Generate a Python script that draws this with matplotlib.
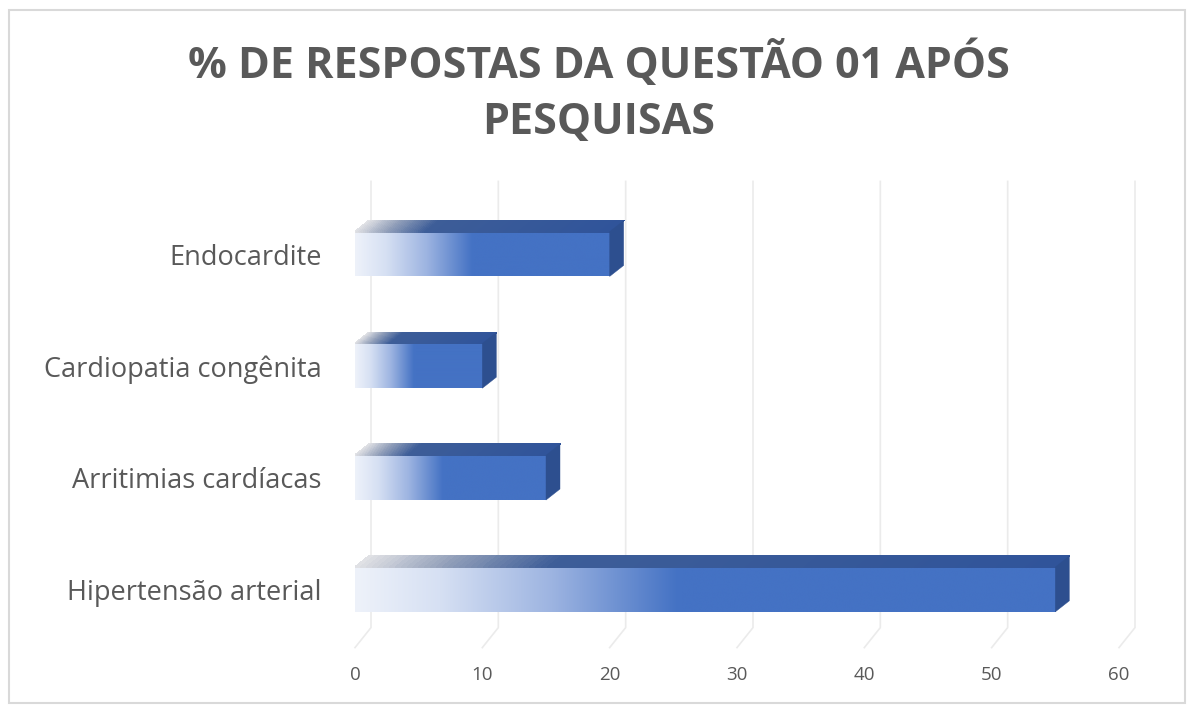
import numpy as np
import matplotlib
matplotlib.use("Agg")
import matplotlib.pyplot as plt
from matplotlib.patches import Polygon, Rectangle
from matplotlib.collections import PolyCollection
from matplotlib.colors import LinearSegmentedColormap

plt.rcParams["font.family"] = ["Open Sans", "DejaVu Sans"]

TITLE = "% DE RESPOSTAS DA QUESTÃO 01 APÓS\nPESQUISAS"
CATEGORIES = ["Hipertensão arterial", "Arritimias cardíacas",
              "Cardiopatia congênita", "Endocardite"]
VALUES = [55, 15, 10, 20]
X_TICKS = [0, 10, 20, 30, 40, 50, 60]

TEXT_COLOR = "#595959"
GRID_COLOR = "#ebebeb"
BLUE = "#4472C4"

W, H = 1191, 706
BAR_H = 0.4
BAR_DEPTH = (14, 11)     # pixels, right / up
GRID_DEPTH = (16, 20)

front_cmap = LinearSegmentedColormap.from_list("front", [
    (0.0, "#eef2fa"), (0.12, "#d6e0f3"), (0.28, "#9db4e1"),
    (0.46, BLUE), (1.0, BLUE)])
top_cmap = LinearSegmentedColormap.from_list("top", [
    (0.0, "#e3e3e6"), (0.12, "#95a2bb"), (0.28, "#3d5d98"),
    (1.0, "#30549a")])


def px_to_data(ax, dx, dy):
    # convert a pixel offset into data units
    inv = ax.transData.inverted()
    x0, y0 = inv.transform((0, 0))
    x1, y1 = inv.transform((dx, dy))
    return x1 - x0, y1 - y0


def draw_grid(ax):
    gx, gy = px_to_data(ax, *GRID_DEPTH)
    y_bot, y_top = ax.get_ylim()
    for x in X_TICKS:
        ax.plot([x, x + gx, x + gx], [y_bot, y_bot + gy, y_top],
                color=GRID_COLOR, lw=1.2, zorder=0, clip_on=False)


def draw_bar(ax, y, v):
    dx, dy = px_to_data(ax, *BAR_DEPTH)
    y0, y1 = y - BAR_H / 2, y + BAR_H / 2

    # front face with horizontal gradient
    grad = np.linspace(0, 1, 256).reshape(1, -1)
    ax.imshow(grad, cmap=front_cmap, extent=(0, v, y0, y1),
              aspect="auto", interpolation="bicubic", zorder=3)

    # top face drawn as thin strips so the colour can fade along the bar
    n = 120
    xs = np.linspace(0, v, n + 1)
    strips = [[(xs[i], y1), (xs[i + 1], y1),
               (xs[i + 1] + dx, y1 + dy), (xs[i] + dx, y1 + dy)]
              for i in range(n)]
    cols = top_cmap((xs[:-1] + xs[1:]) / 2 / v)
    ax.add_collection(PolyCollection(strips, facecolors=cols, edgecolors=cols,
                                     linewidths=0.6, antialiased=False,
                                     zorder=3))

    # right side face
    ax.add_patch(Polygon([(v, y0), (v + dx, y0 + dy), (v + dx, y1 + dy), (v, y1)],
                         closed=True, facecolor="#2d4f8f", edgecolor="#2d4f8f",
                         lw=0.3, zorder=3))


def main():
    fig = plt.figure(figsize=(W / 100, H / 100), dpi=100)

    # axes placed so the floor and back wall sit where they should
    left, right = 355 / W, 1119 / W
    bottom, top = (H - 647.6) / H, (H - 181.4) / H
    ax = fig.add_axes([left, bottom, right - left, top - bottom])
    ax.set_xlim(0, 60)
    ax.set_ylim(-0.52, 3.65)

    for s in ax.spines.values():
        s.set_visible(False)
    ax.set_facecolor("none")

    draw_grid(ax)
    for i, v in enumerate(VALUES):
        draw_bar(ax, i, v)

    ax.set_xticks(X_TICKS)
    ax.set_xticklabels([str(t) for t in X_TICKS], fontsize=13.5, color=TEXT_COLOR)
    ax.set_yticks(range(len(CATEGORIES)))
    ax.set_yticklabels(CATEGORIES, fontsize=19.5, color=TEXT_COLOR)
    ax.tick_params(axis="x", length=0, pad=13)
    ax.tick_params(axis="y", length=0, pad=24)

    fig.text(599 / W, 1 - 92 / H, TITLE, ha="center", va="center",
             fontsize=31, fontweight="bold", color=TEXT_COLOR,
             linespacing=1.4)

    fig.patches.append(Rectangle((9 / W, 3 / H), 1176 / W, 693 / H,
                                 transform=fig.transFigure, fill=False,
                                 edgecolor="#d9d9d9", lw=1.5))

    fig.savefig("out.png", dpi=100)


if __name__ == "__main__":
    main()
